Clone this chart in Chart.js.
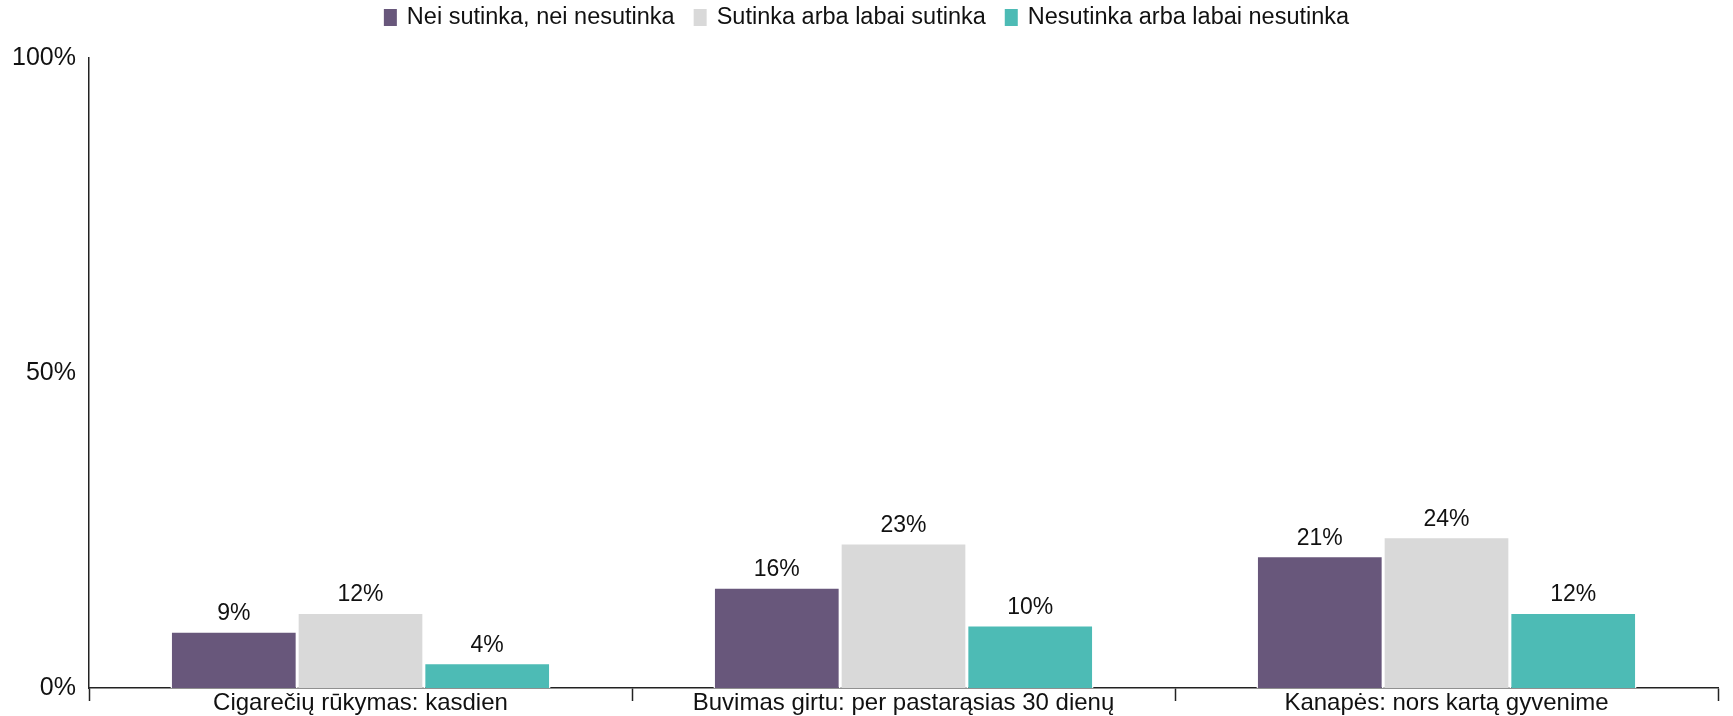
<!DOCTYPE html>
<html>
<head>
<meta charset="utf-8">
<script src="https://cdn.jsdelivr.net/npm/chart.js@4.4.1/dist/chart.umd.min.js"></script>
<style>
  html, body { margin: 0; padding: 0; background: #fff; }
  #wrap { width: 1733px; height: 716px; position: relative; }
</style>
</head>
<body>
<div id="wrap"><canvas id="chart" width="1733" height="716"></canvas></div>
<script>
// Categories (x axis)
const categories = [
  'Cigarečių rūkymas: kasdien',
  'Buvimas girtu: per pastarąsias 30 dienų',
  'Kanapės: nors kartą gyvenime'
];

// Series labels
const seriesNames = [
  'Nei sutinka, nei nesutinka',
  'Sutinka arba labai sutinka',
  'Nesutinka arba labai nesutinka'
];

// Series values, percent
const neutralValues = [9, 16, 21];
const agreeValues = [12, 23, 24];
const disagreeValues = [4, 10, 12];

// Y axis ticks
const yTicks = [0, 50, 100];

const seriesColors = ['#68577b', '#d9d9d9', '#4dbbb5'];
const FONT = '"Liberation Sans", Arial, Helvetica, sans-serif';
const TEXT_COLOR = '#111';

// Writes the value above every bar
const valueLabels = {
  id: 'valueLabels',
  afterDatasetsDraw(chart) {
    const ctx = chart.ctx;
    ctx.save();
    ctx.font = '23px ' + FONT;
    ctx.fillStyle = TEXT_COLOR;
    ctx.textAlign = 'center';
    ctx.textBaseline = 'alphabetic';
    chart.data.datasets.forEach((ds, i) => {
      const meta = chart.getDatasetMeta(i);
      meta.data.forEach((bar, j) => {
        ctx.fillText(ds.data[j] + '%', bar.x, bar.y - 11);
      });
    });
    ctx.restore();
  }
};

// Compact legend row: narrow colour swatch, tight gap to the text
const legendRow = {
  id: 'legendRow',
  afterDraw(chart) {
    const ctx = chart.ctx;
    const boxW = 13, boxH = 17, textGap = 10, itemGap = 19;
    const boxTop = 9, textMid = 18;
    ctx.save();
    ctx.font = '23.5px ' + FONT;
    ctx.textBaseline = 'middle';
    ctx.textAlign = 'left';
    const items = chart.data.datasets.map(ds => ({
      text: ds.label,
      color: ds.backgroundColor,
      w: ctx.measureText(ds.label).width
    }));
    const total = items.reduce((s, it) => s + boxW + textGap + it.w, 0) + itemGap * (items.length - 1);
    let x = chart.width / 2 - total / 2;
    items.forEach(it => {
      ctx.fillStyle = it.color;
      ctx.fillRect(x, boxTop, boxW, boxH);
      x += boxW + textGap;
      ctx.fillStyle = TEXT_COLOR;
      ctx.fillText(it.text, x, textMid);
      x += it.w + itemGap;
    });
    ctx.restore();
  }
};

new Chart(document.getElementById('chart'), {
  type: 'bar',
  data: {
    labels: categories,
    datasets: [
      { label: seriesNames[0], data: neutralValues, backgroundColor: seriesColors[0] },
      { label: seriesNames[1], data: agreeValues, backgroundColor: seriesColors[1] },
      { label: seriesNames[2], data: disagreeValues, backgroundColor: seriesColors[2] }
    ].map(d => Object.assign(d, {
      borderColor: '#ffffff',
      borderWidth: 1.5,
      categoryPercentage: 0.7,
      barPercentage: 1.0
    }))
  },
  options: {
    responsive: false,
    animation: false,
    devicePixelRatio: 1,
    layout: { padding: { left: 0, right: 15, top: 58, bottom: 0 } },
    plugins: {
      legend: { display: false },
      tooltip: { enabled: false },
      title: { display: false }
    },
    scales: {
      x: {
        offset: true,
        grid: {
          display: true,
          offset: true,
          drawOnChartArea: false,
          drawTicks: true,
          tickLength: 13,
          tickColor: '#222',
          tickWidth: 1.5
        },
        border: { display: true, color: '#222', width: 1.5 },
        ticks: {
          color: TEXT_COLOR,
          padding: -12.5,
          maxRotation: 0,
          autoSkip: false,
          font: { family: FONT, size: 24 }
        },
        afterFit(scale) { scale.height = 27; }
      },
      y: {
        min: 0,
        max: 100,
        afterBuildTicks(scale) { scale.ticks = yTicks.map(v => ({ value: v })); },
        grid: { display: false, drawTicks: false },
        border: { display: true, color: '#222', width: 1.5 },
        ticks: {
          color: TEXT_COLOR,
          padding: 13,
          font: { family: FONT, size: 25 },
          callback: v => v + '%'
        },
        afterFit(scale) { scale.width = 89; }
      }
    }
  },
  plugins: [valueLabels, legendRow]
});
</script>
</body>
</html>
